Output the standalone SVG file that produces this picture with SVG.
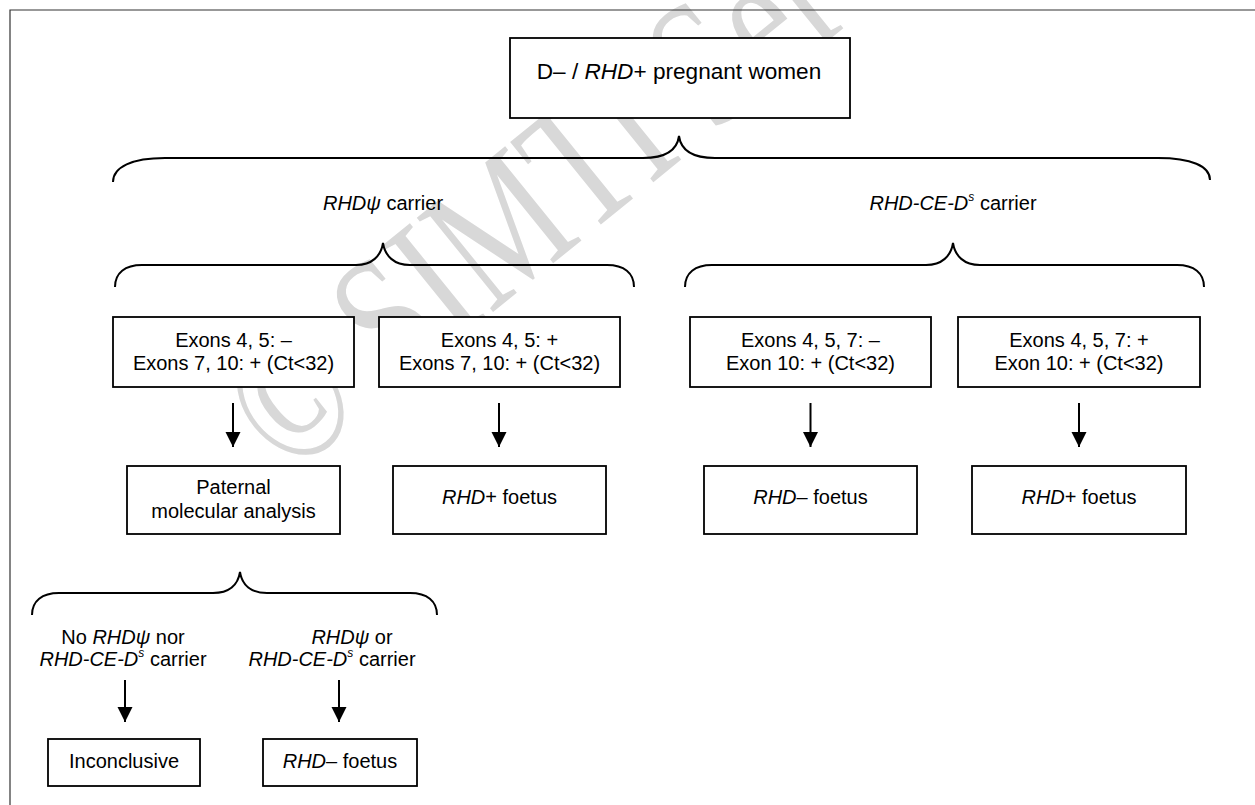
<svg xmlns="http://www.w3.org/2000/svg" width="1255" height="805" viewBox="0 0 1255 805">
<style>
  text { font-family: "Liberation Sans", Arial, sans-serif; fill: #000; }
  .t20 { font-size: 20px; }
  .t22 { font-size: 22.6px; }
  .c { text-anchor: middle; }
  .i { font-style: italic; }
  .box { fill: #fff; stroke: #000; stroke-width: 1.8; }
  .brace { fill: none; stroke: #000; stroke-width: 2; }
  .arrow { stroke: #000; stroke-width: 2; marker-end: url(#ah); }
  .frame { fill: none; stroke: #333; stroke-width: 1.2; }
  .wm { font-family: "Liberation Serif", "Times New Roman", serif; font-size: 185px; fill: #d8d8d8; }
</style>
<defs>
  <marker id="ah" markerUnits="userSpaceOnUse" markerWidth="16" markerHeight="16" viewBox="0 0 16 16" refX="15" refY="8" orient="auto">
    <path d="M0,0.5 L15,8 L0,15.5 Z" fill="#000"/>
  </marker>
</defs>
<rect width="1255" height="805" fill="#fff"/>
<g id="watermark">
  <text class="wm" transform="translate(288,478) rotate(-39) scale(0.74,1)">© SIMTI Ser</text>
</g>
<g id="frame">
  <path class="frame" d="M10,805 L10,10 L1255,10"/>
</g>
<g id="connectors">
  <path class="brace" d="M113,182 C113,167 132,158 165,158 L643,158 C664,158 677,151 679,136 C681,151 694,158 715,158 L1158,158 C1191,158 1210,166 1210,180"/>
  <path class="brace" d="M115,287 C115,273 125,265 142,265 L356,265 C372,265 381,256 383,243 C385,256 394,265 410,265 L607,265 C624,265 634,273 634,287"/>
  <path class="brace" d="M685,287 C685,273 695,265 712,265 L926,265 C942,265 951,256 953,243 C955,256 964,265 980,265 L1177,265 C1194,265 1204,273 1204,287"/>
  <path class="brace" d="M32,615 C32,601 42,593 59,593 L213,593 C229,593 238,585 240,572 C242,585 251,593 267,593 L410,593 C427,593 437,601 437,615"/>
  <line class="arrow" x1="233" y1="403" x2="233" y2="447"/>
  <line class="arrow" x1="499" y1="403" x2="499" y2="447"/>
  <line class="arrow" x1="810.5" y1="403" x2="810.5" y2="447"/>
  <line class="arrow" x1="1079" y1="403" x2="1079" y2="447"/>
  <line class="arrow" x1="125" y1="680" x2="125" y2="722"/>
  <line class="arrow" x1="339" y1="680" x2="339" y2="722"/>
</g>
<g id="n-root">
  <rect class="box" x="510" y="38" width="340" height="80"/>
  <text class="t22 c" x="679" y="79">D– / <tspan class="i">RHD</tspan>+ pregnant women</text>
</g>
<g id="l-psi">
  <text class="t20 c" x="383" y="210"><tspan class="i">RHDψ</tspan> carrier</text>
</g>
<g id="l-ceds">
  <text class="t20 c" x="953" y="210"><tspan class="i">RHD-CE-D</tspan><tspan class="i" font-size="12" dy="-9">s</tspan><tspan dy="9"> carrier</tspan></text>
</g>
<g id="n-ex45neg">
  <rect class="box" x="113" y="317" width="241" height="70"/>
  <text class="t20 c" x="233.5" y="347">Exons 4, 5: –</text>
  <text class="t20 c" x="233.5" y="370">Exons 7, 10: + (Ct&lt;32)</text>
</g>
<g id="n-ex45pos">
  <rect class="box" x="379" y="317" width="241" height="70"/>
  <text class="t20 c" x="499.5" y="347">Exons 4, 5: +</text>
  <text class="t20 c" x="499.5" y="370">Exons 7, 10: + (Ct&lt;32)</text>
</g>
<g id="n-ex457neg">
  <rect class="box" x="690" y="317" width="241" height="70"/>
  <text class="t20 c" x="810.5" y="347">Exons 4, 5, 7: –</text>
  <text class="t20 c" x="810.5" y="370">Exon 10: + (Ct&lt;32)</text>
</g>
<g id="n-ex457pos">
  <rect class="box" x="958" y="317" width="242" height="70"/>
  <text class="t20 c" x="1079" y="347">Exons 4, 5, 7: +</text>
  <text class="t20 c" x="1079" y="370">Exon 10: + (Ct&lt;32)</text>
</g>
<g id="n-paternal">
  <rect class="box" x="127" y="466" width="213" height="68"/>
  <text class="t20 c" x="233.5" y="494">Paternal</text>
  <text class="t20 c" x="233.5" y="518">molecular analysis</text>
</g>
<g id="n-pos1">
  <rect class="box" x="393" y="466" width="213" height="68"/>
  <text class="t20 c" x="499.5" y="504"><tspan class="i">RHD</tspan>+ foetus</text>
</g>
<g id="n-neg1">
  <rect class="box" x="704" y="466" width="213" height="68"/>
  <text class="t20 c" x="810.5" y="504"><tspan class="i">RHD</tspan>– foetus</text>
</g>
<g id="n-pos2">
  <rect class="box" x="972" y="466" width="214" height="68"/>
  <text class="t20 c" x="1079" y="504"><tspan class="i">RHD</tspan>+ foetus</text>
</g>
<g id="l-none">
  <text class="t20 c" x="123" y="644">No <tspan class="i">RHDψ</tspan> nor</text>
  <text class="t20 c" x="123" y="666"><tspan class="i">RHD-CE-D</tspan><tspan class="i" font-size="12" dy="-9">s</tspan><tspan dy="9"> carrier</tspan></text>
</g>
<g id="l-either">
  <text class="t20 c" x="352" y="644"><tspan class="i">RHDψ</tspan> or</text>
  <text class="t20 c" x="332" y="666"><tspan class="i">RHD-CE-D</tspan><tspan class="i" font-size="12" dy="-9">s</tspan><tspan dy="9"> carrier</tspan></text>
</g>
<g id="n-inconclusive">
  <rect class="box" x="48" y="739" width="152" height="47"/>
  <text class="t20 c" x="124" y="768">Inconclusive</text>
</g>
<g id="n-neg2">
  <rect class="box" x="263" y="739" width="154" height="47"/>
  <text class="t20 c" x="340" y="768"><tspan class="i">RHD</tspan>– foetus</text>
</g>
</svg>
